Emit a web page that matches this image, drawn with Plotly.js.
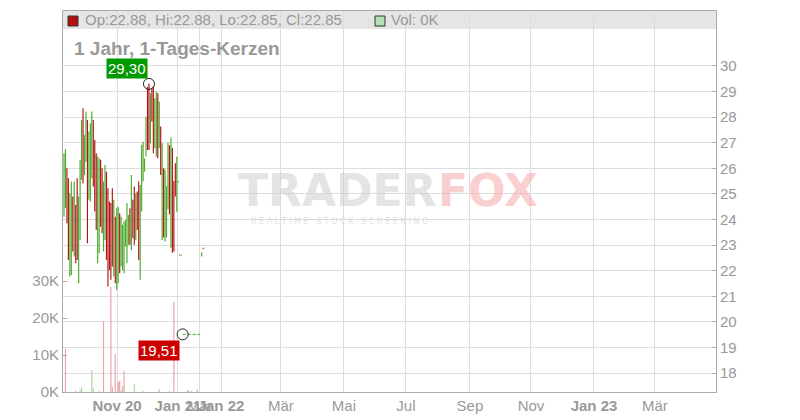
<!DOCTYPE html>
<html><head><meta charset="utf-8">
<script src="https://cdn.plot.ly/plotly-3.0.1.min.js"></script>
<style>html,body{margin:0;padding:0;background:#fff}#chart{width:800px;height:420px}</style>
</head><body><div id="chart"></div>
<script>
// ---- data (trading-day index positions) ----
const candleIdx  = [0,1,2,3,4,5,6,7,8,9,10,11,12,13,14,15,16,17,18,19,20,21,22,23,24,25,26,27,28,29,30,31,32,33,34,35,36,37,38,39,40,41,42,43,44,45,46,47,48,49,50,51,52,53,54,55,56,57,58,59,60,61,62,63,64,65,66,67,68,69,70,71,72,73,74,75,76,77,78,79,80,94,95];
const candleHigh = [26.59,26.75,26.00,25.61,25.03,25.48,24.90,25.48,24.57,25.61,24.90,26.33,27.89,28.35,27.30,28.22,27.89,27.44,27.76,28.22,27.89,27.11,26.59,26.46,26.39,26.33,26.00,25.48,26.13,25.87,25.22,24.70,24.64,25.22,24.77,24.11,24.44,24.50,24.24,24.11,23.79,23.92,23.98,24.64,24.18,24.44,25.74,24.77,25.29,25.03,25.09,25.48,25.35,26.91,27.04,26.39,28.02,29.19,29.30,28.93,29.13,29.20,28.74,29.00,28.93,28.61,27.63,26.98,26.00,25.94,25.30,27.00,26.90,27.20,26.80,25.50,26.20,26.45,25.50,22.63,22.63,22.72,22.88];
const candleLow  = [24.11,24.44,23.85,22.42,21.77,21.83,22.75,22.55,22.29,22.42,21.51,23.20,25.55,25.42,25.74,26.26,23.07,24.77,24.70,25.61,25.29,24.31,23.59,22.29,22.68,23.72,23.46,22.75,23.20,22.42,21.38,22.03,21.64,22.16,21.77,21.51,21.25,21.51,21.90,22.16,22.03,21.90,22.94,22.29,23.01,23.01,22.81,23.27,23.01,23.20,23.59,22.42,21.64,24.31,25.48,25.87,26.46,26.72,26.72,26.98,27.83,26.59,26.78,26.46,26.39,26.78,25.74,23.20,23.30,23.14,23.30,24.40,24.20,22.90,22.70,22.75,24.90,24.30,25.45,22.58,22.58,22.55,22.85];
const candleUp   = [1,1,0,0,1,1,0,1,0,0,1,1,1,0,1,1,0,1,1,1,0,0,0,1,1,0,0,1,1,0,0,0,0,0,1,0,1,1,0,1,1,1,1,1,1,0,1,0,0,1,0,0,1,1,1,1,1,0,0,1,0,0,1,1,0,1,0,1,0,1,1,1,0,1,0,0,0,1,1,1,1,1,0];

const volIdx = [1,8,11,12,19,20,24,27,32,33,35,37,38,39,40,41,48,54,65,72,75,84,85,87,91];
const volK   = [11.6,0.3,0.5,1.3,5.9,1.0,0.3,19.2,28.4,1.3,10.3,2.7,3.0,0.4,1.6,5.7,2.1,0.3,0.8,0.3,24.3,0.3,0.5,0.3,0.7];
const volDir = ['d','d','u','u','u','u','d','d','d','d','d','d','d','d','u','d','u','u','u','u','d','n','n','n','n'];

const tickPos    = [36.2,77.8,92.8,107.2,148.1,191.1,233.4,277.1,318.8,361.8,403.4];
const tickLabels = ['<b>Nov 20</b>','<b>Jan 21</b>','Mär','<b>Jan 22</b>','Mär','Mai','Jul','Sep','Nov','<b>Jan 23</b>','Mär'];
const priceTicks = [18,19,20,21,22,23,24,25,26,27,28,29,30];
const volTicks   = [0,10,20,30];

const lowMarkIdx = [81, 93];
const lowMarkPrice = 19.51;
const lastBar = {open:22.88, high:22.88, low:22.85, close:22.85, volK:0};

// ---- styling ----
const GREEN='#4aab2c', RED='#b31616', GRID='#dddddd', AXIS='#aaaaaa', TXT='#999999';
const L=63, R=716, T=11, B=392, W=R-L, H=B-T;
const px = v => (v-L)/W, py = v => (B-v)/H;

function pick(arr, cond){ return arr.filter((_,i)=>cond(i)); }
const upI = i => candleUp[i]===1, dnI = i => candleUp[i]===0;

const traces = [];
[[upI,GREEN],[dnI,RED]].forEach(([c,col])=>{
  const lo = pick(candleLow,c);
  traces.push({type:'bar', x:pick(candleIdx,c), base:lo,
    y:pick(candleHigh,c).map((h,k)=>Math.max(h-lo[k],0.05)),
    width:0.8, marker:{color:col,line:{width:0}}, yaxis:'y', hoverinfo:'skip'});
});
const vcol = {u:'#a6d89e', d:'#eea0a8', n:'#bbbbbb'};
traces.push({type:'bar', x:volIdx, y:volK.map(v=>v*1000), width:0.8,
  marker:{color:volDir.map(d=>vcol[d]),line:{width:0}}, yaxis:'y2', hoverinfo:'skip'});

let maxI=0; candleHigh.forEach((h,i)=>{ if(h>candleHigh[maxI]) maxI=i; });
const maxX=candleIdx[maxI], maxP=candleHigh[maxI];

traces.push({type:'scatter', mode:'lines', x:lowMarkIdx, y:[lowMarkPrice,lowMarkPrice],
  line:{color:'#33aa33',width:1,dash:'3px,2px'}, yaxis:'y', hoverinfo:'skip'});
traces.push({type:'scatter', mode:'markers', x:[maxX, lowMarkIdx[0]], y:[maxP, lowMarkPrice],
  marker:{symbol:'circle-open', size:11, color:'#222', line:{width:1}}, yaxis:'y', hoverinfo:'skip'});

const fmt = v => v.toFixed(2).replace('.',',');
const f = (s,c) => ({family:'Liberation Sans, Arial, sans-serif', size:s, color:c||TXT});

const layout = {
  width:800, height:420, margin:{l:L, r:800-R, t:T, b:420-B},
  paper_bgcolor:'#fff', plot_bgcolor:'#fff', showlegend:false, barmode:'overlay',
  font:f(14),
  xaxis:{range:[-0.68,445.1], tickmode:'array', tickvals:tickPos, ticktext:tickLabels, tickangle:0,
    showgrid:true, gridcolor:GRID, showline:true, linecolor:AXIS, mirror:true, ticks:'',
    zeroline:false, tickfont:f(15), fixedrange:true},
  yaxis:{side:'right', range:[17.258,32.148], tickmode:'array', tickvals:priceTicks,
    showgrid:true, gridcolor:GRID, showline:true, linecolor:AXIS, mirror:true,
    ticks:'inside', ticklen:4, tickcolor:AXIS, zeroline:false, tickfont:f(15), fixedrange:true},
  yaxis2:{overlaying:'y', side:'left', range:[0,103000], tickmode:'array',
    tickvals:volTicks.map(v=>v*1000), ticktext:volTicks.map(v=>v+'K'),
    showgrid:false, showline:true, linecolor:AXIS, ticks:'inside', ticklen:4, tickcolor:AXIS,
    zeroline:false, tickfont:f(15), fixedrange:true},
  shapes:[
    {type:'rect', xref:'paper', yref:'paper', x0:0, x1:1, y0:py(29), y1:1, fillcolor:'#e5e5e5', line:{width:0}, layer:'below'},
    {type:'rect', xref:'paper', yref:'paper', x0:px(68), x1:px(78), y0:py(26), y1:py(16), fillcolor:'#b50f0f', line:{color:'#333',width:1}},
    {type:'rect', xref:'paper', yref:'paper', x0:px(375), x1:px(385), y0:py(26), y1:py(16), fillcolor:'#b5e0b5', line:{color:'#333',width:1}}
  ],
  annotations:[
    {xref:'paper', yref:'paper', x:px(337), y:py(190), text:'<b>TRADER</b>', showarrow:false,
      font:{family:'DejaVu Sans', size:44, color:'#cfcfcf'}, opacity:0.55},
    {xref:'paper', yref:'paper', x:px(488), y:py(190), text:'<b>FOX</b>', showarrow:false,
      font:{family:'DejaVu Sans', size:44, color:'#f7a8a8'}, opacity:0.55},
    {xref:'paper', yref:'paper', x:px(339), y:py(221), text:'R E A L T I M E \u00a0 S T O C K \u00a0 S C R E E N I N G', showarrow:false,
      font:{family:'DejaVu Sans', size:8, color:'#d0d0d0'}, opacity:0.6},
    {xref:'paper', yref:'paper', x:px(83), y:py(20), xanchor:'left', yanchor:'middle', showarrow:false,
      text:'Op:'+lastBar.open.toFixed(2)+', Hi:'+lastBar.high.toFixed(2)+', Lo:'+lastBar.low.toFixed(2)+', Cl:'+lastBar.close.toFixed(2), font:f(15)},
    {xref:'paper', yref:'paper', x:px(389), y:py(20), xanchor:'left', yanchor:'middle', showarrow:false,
      text:'Vol: '+lastBar.volK+'K', font:f(15)},
    {xref:'paper', yref:'paper', x:px(72), y:py(48), xanchor:'left', yanchor:'middle', showarrow:false,
      text:'<b>1 Jahr, 1-Tages-Kerzen</b>', font:f(19)},
    {xref:'x', yref:'y', x:maxX, y:maxP, xanchor:'right', yanchor:'bottom', xshift:-1, yshift:5,
      showarrow:false, text:fmt(maxP), bgcolor:'#009900', borderpad:1, font:f(15,'#fff')},
    {xref:'x', yref:'y', x:lowMarkIdx[0], y:lowMarkPrice, xanchor:'right', yanchor:'top', xshift:-3, yshift:-6,
      showarrow:false, text:fmt(lowMarkPrice), bgcolor:'#cc0000', borderpad:1, font:f(15,'#fff')}
  ]
};
Plotly.newPlot('chart', traces, layout, {displayModeBar:false, staticPlot:true});
</script></body></html>
